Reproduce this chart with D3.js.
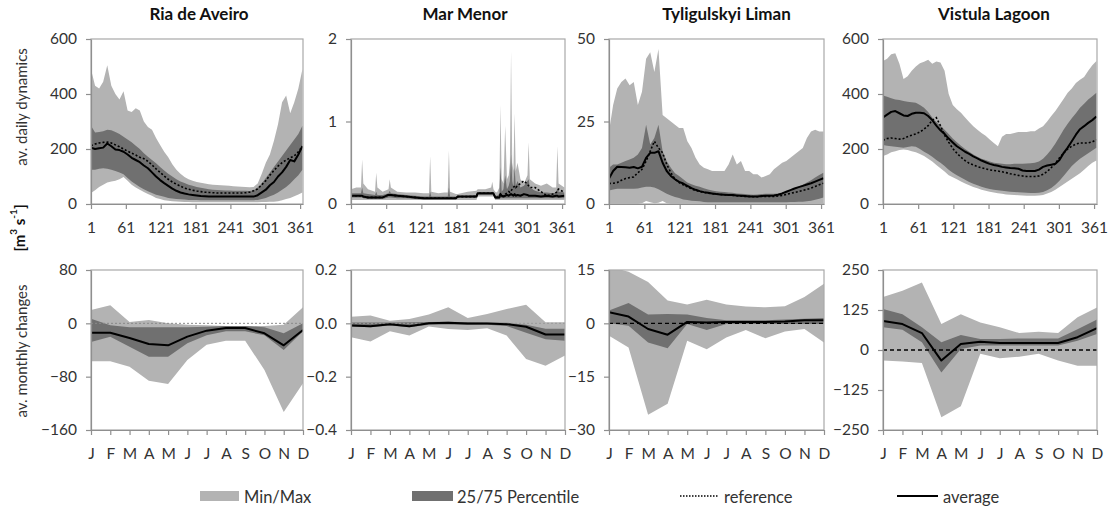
<!DOCTYPE html>
<html><head><meta charset="utf-8">
<script src="https://cdn.jsdelivr.net/npm/d3@7"></script>
<style>
body{margin:0;background:#fff;}
svg{display:block;font-family:Lato,"Open Sans",sans-serif;}
</style>
</head><body>
<svg id="chart" width="1108" height="508"></svg>
<script>
// ---------- DATA ----------
const siteNames = ["Ria de Aveiro", "Mar Menor", "Tyligulskyi Liman", "Vistula Lagoon"];
const monthLabels = ["J","F","M","A","M","J","J","A","S","O","N","D"];
const dayTicks = [1, 61, 121, 181, 241, 301, 361];

const dailyYTicks = [[0,200,400,600],[0,1,2],[0,25,50],[0,200,400,600]];
const monthlyYTicks = [[-160,-80,0,80],[-0.4,-0.2,0.0,0.2],[-30,-15,0,15],[-250,-125,0,125,250]];

// sampling days (weekly) used for Ria de Aveiro, Tyligulskyi Liman, Vistula Lagoon
const days = [1,8,15,22,29,36,43,50,57,64, 71,78,85,92,99,106,113,120,127,134,
  141,148,155,162,169,176,183,190,197,204, 211,218,225,232,239,246,253,260,267,274,
  281,288,295,302,309,316,323,330,337,344, 351,358,365];

// Ria de Aveiro - daily
const raMax = [490,430,420,445,505,430,400,380,410,340, 335,348,340,300,280,270,240,215,190,170,
  145,125,110,98,90,85,80,77,75,72, 70,69,68,67,66,65,64,63,62,61,
  62,75,110,150,180,230,290,370,395,330, 370,420,490];
const raP75 = [285,260,262,265,270,268,262,255,245,235, 225,212,200,185,172,160,148,135,122,110,
  100,90,82,76,70,66,62,59,56,54, 52,51,50,49,49,48,48,48,48,47,
  50,60,75,95,115,135,155,175,195,215, 235,255,285];
const raP25 = [125,125,128,130,128,125,120,115,108,95, 82,72,62,54,46,40,34,30,26,22,
  20,18,17,16,15,15,15,14,14,14, 14,14,14,14,14,14,14,14,14,14,
  14,15,18,22,28,34,42,52,62,75, 90,105,125];
const raMin = [40,50,62,70,78,82,85,90,98,85, 70,60,52,44,36,30,22,18,14,12,
  10,9,8,7,7,6,6,6,6,6, 6,6,6,6,6,6,6,6,6,6,
  6,6,7,7,8,8,10,14,18,22, 28,35,42];
const raAvg = [205,200,203,205,220,210,198,196,190,180, 168,160,152,140,130,115,100,87,76,66,
  56,48,42,38,35,33,31,29,28,27, 27,27,27,27,27,27,27,27,27,27,
  27,32,42,52,68,80,100,115,135,160, 155,180,210];
const raRef = [212,218,222,224,225,222,215,208,200,192, 185,178,170,165,155,142,128,115,102,90,
  80,72,65,58,54,50,47,45,43,42, 41,40,40,40,40,40,40,40,41,43,
  48,55,70,85,105,122,138,150,160,168, 175,190,210];

// Mar Menor - daily (finer sampling around spikes)
const mmDays = [1,10,18,20,22,30,42,44,46,55, 65,67,69,80,95,110,125,134,136,138,
  150,160,166,168,170,180,183,200,215,217, 230,240,242,244,247,250,254,256,258,261,
  264,267,270,272,274,276,278,280,282,285, 290,296,302,304,306,315,325,335,345,351,
  353,355,365];
const mmMax = [0.18,0.2,0.2,0.54,0.25,0.18,0.15,0.38,0.2,0.15, 0.18,0.3,0.2,0.15,0.14,0.14,0.13,0.13,0.58,0.15,
  0.13,0.14,0.14,0.65,0.15,0.12,0.12,0.15,0.16,0.18, 0.18,0.2,0.27,0.18,0.15,0.14,0.2,1.2,0.3,0.25,
  0.95,0.3,0.35,0.5,1.85,0.5,0.4,1.1,0.4,0.5, 0.3,0.25,0.35,0.75,0.3,0.25,0.22,0.25,0.2,0.2,
  0.7,0.25,0.2];
const mmP75 = [0.13,0.13,0.13,0.2,0.13,0.12,0.11,0.15,0.11,0.11, 0.13,0.16,0.13,0.12,0.11,0.1,0.09,0.09,0.15,0.09,
  0.09,0.09,0.09,0.2,0.09,0.09,0.1,0.1,0.11,0.14, 0.14,0.14,0.15,0.14,0.1,0.1,0.12,0.45,0.15,0.18,
  0.35,0.18,0.22,0.28,0.6,0.28,0.2,0.45,0.22,0.28, 0.2,0.22,0.28,0.3,0.2,0.16,0.14,0.14,0.13,0.14,
  0.2,0.15,0.14];
const mmP25 = [0.08,0.08,0.08,0.08,0.07,0.06,0.06,0.06,0.06,0.06, 0.08,0.08,0.08,0.07,0.07,0.06,0.055,0.055,0.055,0.055,
  0.055,0.055,0.055,0.055,0.055,0.055,0.075,0.075,0.075,0.11, 0.11,0.11,0.11,0.11,0.06,0.06,0.06,0.07,0.07,0.07,
  0.07,0.07,0.07,0.07,0.07,0.07,0.07,0.07,0.07,0.07, 0.07,0.07,0.07,0.07,0.07,0.07,0.07,0.07,0.07,0.07,
  0.07,0.07,0.07];
const mmMin = [0.05,0.05,0.05,0.05,0.05,0.05,0.05,0.05,0.05,0.05, 0.05,0.05,0.05,0.05,0.05,0.05,0.05,0.05,0.05,0.05,
  0.05,0.05,0.05,0.05,0.05,0.05,0.05,0.05,0.05,0.09, 0.09,0.09,0.09,0.09,0.05,0.05,0.05,0.05,0.05,0.05,
  0.05,0.05,0.05,0.05,0.05,0.05,0.05,0.05,0.05,0.05, 0.05,0.05,0.05,0.05,0.05,0.05,0.05,0.05,0.05,0.05,
  0.05,0.05,0.05];
const mmAvg = [0.1,0.1,0.1,0.1,0.09,0.08,0.08,0.08,0.08,0.08, 0.11,0.11,0.11,0.1,0.09,0.08,0.07,0.07,0.07,0.07,
  0.07,0.07,0.07,0.07,0.07,0.07,0.09,0.09,0.09,0.13, 0.13,0.13,0.13,0.13,0.08,0.08,0.08,0.12,0.1,0.09,
  0.1,0.11,0.1,0.11,0.12,0.11,0.1,0.12,0.1,0.11, 0.1,0.12,0.11,0.1,0.1,0.1,0.09,0.1,0.09,0.1,
  0.1,0.09,0.1];
const mmRef = [0.1,0.1,0.1,0.1,0.09,0.08,0.08,0.08,0.08,0.08, 0.11,0.11,0.11,0.1,0.09,0.08,0.07,0.07,0.07,0.07,
  0.07,0.07,0.07,0.07,0.07,0.07,0.09,0.09,0.09,0.13, 0.13,0.13,0.13,0.13,0.08,0.08,0.09,0.12,0.1,0.1,
  0.12,0.13,0.15,0.14,0.16,0.18,0.2,0.22,0.2,0.22, 0.25,0.28,0.24,0.22,0.2,0.2,0.15,0.1,0.12,0.14,
  0.15,0.18,0.14];

// Tyligulskyi Liman - daily
const tlMax = [22,30,35,37,38,36,37,30,34,44, 46,40,47,27,26,25,24,23,23,19,
  17,14,12,11,10.5,10,10,10,10,12, 15,12,13,10,10,9,9,8,8.5,9,
  10.5,11.5,12.5,13,14,15,16,17,20,22, 22.5,22,22];
const tlP75 = [11,12,12,12.5,13,13.5,14,15,17,24, 18,20,24,16,13,11,9.3,8.5,7.5,6.5,
  6,5.5,5.2,4.8,4.4,4.1,3.9,3.7,3.6,3.5, 3.4,3.2,3.1,3.0,2.9,2.8,2.9,3.0,3.1,3.1,
  3.1,3.2,3.4,3.6,4,4.6,5.2,5.8,6.5,7.2, 8,8.8,9.5];
const tlP25 = [4.1,4.4,4.6,4.6,4.6,4.6,4.6,4.7,5,5.2, 5.2,5,4.5,3.8,3.1,2.6,2.1,1.8,1.4,1.2,
  1,0.9,0.8,0.6,0.5,0.5,0.5,0.5,0.5,0.5, 0.5,0.5,0.5,0.5,0.5,0.5,0.5,0.5,0.5,0.5,
  0.5,0.5,0.5,0.5,0.6,0.6,0.7,0.7,0.8,1, 1.3,1.6,2];
const tlMin = [0.1,0.1,0.1,0.1,0.1,0.1,0.1,0.1,0.2,0.9, 0.5,0.2,0.4,0.9,0.2,0.1,0.1,0.1,0.1,0.1,
  0.1,0.1,0.1,0.1,0.1,0.1,0.1,0.1,0.1,0.1, 0.1,0.1,0.1,0.1,0.1,0.1,0.1,0.1,0.1,0.1,
  0.1,0.1,0.1,0.1,0.1,0.1,0.1,0.1,0.1,0.1, 0.1,0.1,0.1];
const tlAvg = [7.7,10,11.3,11.2,11.1,11,11.2,10.8,11.3,14, 15.5,15.5,16,12.5,10,8.5,7.5,6.7,6.2,5.5,
  4.8,4.3,3.9,3.6,3.4,3.2,3,2.9,2.8,2.7, 2.7,2.6,2.5,2.4,2.3,2.3,2.3,2.4,2.5,2.5,
  2.6,2.8,3.2,3.7,4.2,4.7,5.1,5.5,5.9,6.3, 6.8,7.3,7.8];
const tlRef = [6.2,6.3,6.5,7.2,7.7,8,8.2,9.5,10.5,13, 16,19,17,15.5,12,9.5,7.5,6.5,5.8,5.2,
  4.6,4.1,3.8,3.5,3.3,3.1,3,2.9,2.8,2.7, 2.6,2.5,2.4,2.3,2.3,2.2,2.2,2.3,2.3,2.3,
  2.3,2.4,2.6,2.9,3.2,3.5,3.8,4.1,4.4,4.8, 5.3,5.8,6.3];

// Vistula Lagoon - daily
const vlMax = [520,528,545,548,510,455,465,485,500,512, 517,525,510,518,515,485,400,360,345,332,
  315,298,283,270,258,248,235,222,210,245, 255,255,258,262,262,262,265,265,275,283,
  300,320,338,360,382,405,420,440,452,462, 485,505,520];
const vlP75 = [395,390,385,380,378,375,372,370,368,360, 350,335,315,298,285,270,255,238,225,212,
  200,190,180,172,165,160,155,150,148,146, 145,145,146,146,146,147,148,150,155,165,
  180,198,220,245,270,292,312,330,350,365, 380,392,405];
const vlP25 = [215,212,210,208,206,205,207,210,208,200, 190,182,172,160,150,138,125,114,105,96,
  88,80,74,68,63,58,55,52,50,48, 46,45,44,43,42,41,40,40,41,44,
  50,58,70,85,102,120,138,152,165,175, 185,195,205];
const vlMin = [175,180,188,192,196,198,196,192,188,182, 175,165,155,142,130,118,105,97,90,82,
  75,68,62,57,52,48,45,42,39,37, 35,34,33,32,31,30,30,30,31,33,
  38,44,52,62,72,82,92,102,112,125, 138,150,158];
const vlAvg = [315,325,335,338,330,322,320,328,332,332, 330,320,305,285,268,255,238,224,210,200,
  190,182,173,166,158,152,146,142,139,135, 133,131,130,128,122,120,120,120,125,135,
  140,143,146,160,185,205,228,252,272,283, 295,305,318];
const vlRef = [232,238,240,238,236,238,245,250,255,262, 272,285,305,314,285,250,225,202,185,170,
  158,148,142,136,132,128,124,122,120,117, 114,110,107,104,102,100,100,100,102,108,
  118,132,148,168,185,200,210,218,222,222, 222,226,234];

// Monthly changes
const raMonMax = [20,27,2,5,0,-2,-3,-4,-4,-4,-2,24];
const raMonP75 = [7,-3,-6,-6,-6,-6,-5,-4,-4,-6,-15,0];
const raMonP25 = [-28,-20,-35,-50,-50,-30,-18,-12,-12,-18,-40,-12];
const raMonMin = [-57,-57,-65,-86,-91,-55,-32,-26,-26,-70,-133,-90];
const raMonAvg = [-14,-14,-22,-31,-33,-20,-11,-7,-7,-15,-33,-10];

const mmMonMax = [0.025,0.029,0.01,0.016,0.033,0.06,0.02,0.035,0.054,0.07,0.004,0.004];
const mmMonP75 = [0.003,0.003,0.003,0.004,0.005,0.006,0.004,0.003,0.002,-0.005,-0.02,-0.02];
const mmMonP25 = [-0.012,-0.015,-0.008,-0.015,-0.005,-0.004,-0.006,-0.005,-0.01,-0.035,-0.06,-0.065];
const mmMonMin = [-0.052,-0.068,-0.03,-0.046,-0.012,-0.021,-0.025,-0.018,-0.046,-0.134,-0.159,-0.121];
const mmMonAvg = [-0.008,-0.011,-0.003,-0.011,0,0.002,-0.001,-0.001,-0.003,-0.013,-0.042,-0.042];

const tlMonMax = [16,14.5,11.6,6.4,5.3,6.6,5.3,4.7,4.5,4.8,7.4,11.1];
const tlMonP75 = [3.6,5.7,2.5,2.6,2.5,1.5,0.9,0.9,0.9,1.1,1.3,1.5];
const tlMonP25 = [0,-0.7,-5.4,-7,-0.2,-1.9,-0.2,-0.2,-0.2,-0.2,-0.2,-0.2];
const tlMonMin = [-3.5,-6.8,-25.7,-22.6,-4.9,-7.3,-4,-1.9,-4.2,-2.3,-1.6,-5.4];
const tlMonAvg = [3.1,1.9,-1.6,-3.2,0.4,0.2,0.4,0.4,0.4,0.5,0.9,0.9];

const vlMonMax = [166,185,211,81,112,86,71,53,57,53,102,133];
const vlMonP75 = [128,112,71,24,47,34,34,36,36,36,65,95];
const vlMonP25 = [71,63,24,-70,3,14,14,14,14,14,29,50];
const vlMonMin = [-33,-36,-41,-210,-176,-12,-26,-21,-12,-33,-49,-49];
const vlMonAvg = [91,81,53,-33,19,26,22,22,22,22,40,68];

const legendLabels = ["Min/Max", "25/75 Percentile", "reference", "average"];

// ---------- LAYOUT / STYLE ----------
const colLight = "#b3b3b3", colDark = "#707070";
const axisCol = "#8f8f8f", frameCol = "#a8a8a8", textCol = "#333";
const panelX = [[91,303],[351,565],[609,824],[883,1097]];
const titleShift = [2,7,10,4];
const topRow = [39,204], botRow = [270,430];

const daily = [
  {days: days,   min: raMin, p25: raP25, p75: raP75, max: raMax, avg: raAvg, ref: raRef},
  {days: mmDays, min: mmMin, p25: mmP25, p75: mmP75, max: mmMax, avg: mmAvg, ref: mmRef},
  {days: days,   min: tlMin, p25: tlP25, p75: tlP75, max: tlMax, avg: tlAvg, ref: tlRef},
  {days: days,   min: vlMin, p25: vlP25, p75: vlP75, max: vlMax, avg: vlAvg, ref: vlRef}
];
const monthly = [
  {min: raMonMin, p25: raMonP25, p75: raMonP75, max: raMonMax, avg: raMonAvg, refStyle: {c:"#8a8a8a", d:"2,2", w:1}},
  {min: mmMonMin, p25: mmMonP25, p75: mmMonP75, max: mmMonMax, avg: mmMonAvg, refStyle: {c:"#9a9a9a", d:"2,2", w:1}},
  {min: tlMonMin, p25: tlMonP25, p75: tlMonP75, max: tlMonMax, avg: tlMonAvg, refStyle: {c:"#000", d:"4,3", w:1.3}},
  {min: vlMonMin, p25: vlMonP25, p75: vlMonP75, max: vlMonMax, avg: vlMonAvg, refStyle: {c:"#000", d:"4,3", w:1.5}}
];

const svg = d3.select("#chart");
const defs = svg.append("defs");

function styleAxis(g){
  g.selectAll(".domain").attr("stroke", axisCol).attr("stroke-width", 1.2);
  g.selectAll(".tick line").attr("stroke", axisCol).attr("stroke-width", 1.2);
  g.selectAll(".tick text").attr("fill", textCol).style("font-size", "15.5px").style("font-family", "Lato, 'Open Sans', sans-serif");
}

function drawPanel(k, row, xScale, yScale, data, idx, xTickVals, xTickFmt, yTickVals, yFmt, refDraw){
  const [x0,x1] = panelX[k];
  const [y0,y1] = row;
  const clipId = "clip" + k + "_" + y0;
  defs.append("clipPath").attr("id", clipId).append("rect")
    .attr("x", x0).attr("y", y0).attr("width", x1-x0).attr("height", y1-y0);
  const g = svg.append("g");
  const plot = g.append("g").attr("clip-path", `url(#${clipId})`);

  const areaMM = d3.area().x(i => xScale(idx(i))).y0(i => yScale(data.min[i])).y1(i => yScale(data.max[i]));
  const areaPP = d3.area().x(i => xScale(idx(i))).y0(i => yScale(data.p25[i])).y1(i => yScale(data.p75[i]));
  const line = key => d3.line().x(i => xScale(idx(i))).y(i => yScale(data[key][i]));
  const I = d3.range(data.avg.length);

  plot.append("path").attr("d", areaMM(I)).attr("fill", colLight);
  plot.append("path").attr("d", areaPP(I)).attr("fill", colDark);
  refDraw(plot);
  plot.append("path").attr("d", line("avg")(I)).attr("fill","none").attr("stroke","#000").attr("stroke-width",2).attr("stroke-linejoin","round");

  g.append("rect").attr("x", x0).attr("y", y0).attr("width", x1-x0).attr("height", y1-y0)
    .attr("fill","none").attr("stroke", frameCol).attr("stroke-width", 1.2);

  const ya = g.append("g").attr("transform", `translate(${x0},0)`)
    .call(d3.axisLeft(yScale).tickValues(yTickVals).tickFormat(yFmt).tickSize(5).tickPadding(9).tickSizeOuter(0));
  styleAxis(ya);
  const xa = g.append("g").attr("transform", `translate(0,${y1})`)
    .call(d3.axisBottom(xScale).tickValues(xTickVals).tickFormat(xTickFmt).tickSize(5).tickPadding(13).tickSizeOuter(0));
  styleAxis(xa);
}

// Top row: daily dynamics
daily.forEach((d, k) => {
  const [x0,x1] = panelX[k];
  const x = d3.scaleLinear().domain([1,366]).range([x0,x1]);
  const yt = dailyYTicks[k];
  const y = d3.scaleLinear().domain([yt[0], yt[yt.length-1]]).range([topRow[1], topRow[0]]);
  drawPanel(k, topRow, x, y, d, i => d.days[i], dayTicks, d3.format("d"), yt, d3.format("d"), plot => {
    const I = d3.range(d.ref.length);
    plot.append("path").attr("d", d3.line().x(i => x(d.days[i])).y(i => y(d.ref[i]))(I))
      .attr("fill","none").attr("stroke","#000").attr("stroke-width",1.6).attr("stroke-dasharray","2,2");
  });
  svg.append("text").attr("x", (x0+x1)/2 + titleShift[k]).attr("y", 20)
    .attr("text-anchor","middle").attr("font-weight","bold").attr("font-size","17px").attr("fill","#111")
    .text(siteNames[k]);
});

// Bottom row: monthly changes
monthly.forEach((d, k) => {
  const [x0,x1] = panelX[k];
  const x = d3.scalePoint().domain(d3.range(12)).range([x0,x1]).padding(0);
  const yt = monthlyYTicks[k];
  const y = d3.scaleLinear().domain([yt[0], yt[yt.length-1]]).range([botRow[1], botRow[0]]);
  const yFmt = k === 1 ? d3.format(".1f") : d3.format("d");
  drawPanel(k, botRow, x, y, d, i => i, d3.range(12), i => monthLabels[i], yt, yFmt, plot => {
    const s = d.refStyle;
    plot.append("line").attr("x1", x0).attr("x2", x1).attr("y1", y(0)).attr("y2", y(0))
      .attr("stroke", s.c).attr("stroke-width", s.w).attr("stroke-dasharray", s.d);
  });
});

// Y-axis titles
function vText(cx, cy, bold){
  const t = svg.append("text").attr("transform", `translate(${cx},${cy}) rotate(-90)`)
    .attr("text-anchor","middle").attr("dominant-baseline","central")
    .attr("font-size","15px").attr("fill", bold ? "#111" : textCol);
  if (bold) t.attr("font-weight","bold");
  return t;
}
vText(21, 107, false).text("av. daily dynamics");
vText(21, 351, false).text("av. monthly changes");
const unit = vText(19, 228, true);
unit.append("tspan").text("[m");
unit.append("tspan").attr("baseline-shift","super").attr("font-size","10px").text("3");
unit.append("tspan").text(" s");
unit.append("tspan").attr("baseline-shift","super").attr("font-size","10px").text("-1");
unit.append("tspan").text("]");

// Legend
const lg = svg.append("g");
const legY = 496;
lg.append("rect").attr("x",200).attr("y",legY-5).attr("width",39).attr("height",10).attr("fill",colLight);
lg.append("rect").attr("x",412).attr("y",legY-5).attr("width",41).attr("height",10).attr("fill",colDark);
lg.append("line").attr("x1",680).attr("x2",718).attr("y1",legY).attr("y2",legY)
  .attr("stroke","#000").attr("stroke-width",1.5).attr("stroke-dasharray","1.5,1.5");
lg.append("line").attr("x1",897).attr("x2",938).attr("y1",legY).attr("y2",legY)
  .attr("stroke","#000").attr("stroke-width",2);
const legX = [244, 457, 724, 943];
legendLabels.forEach((t,i) => {
  lg.append("text").attr("x", legX[i]).attr("y", legY+1).attr("dominant-baseline","central")
    .attr("font-size","16.5px").attr("fill", textCol).text(t);
});
</script>
</body></html>
